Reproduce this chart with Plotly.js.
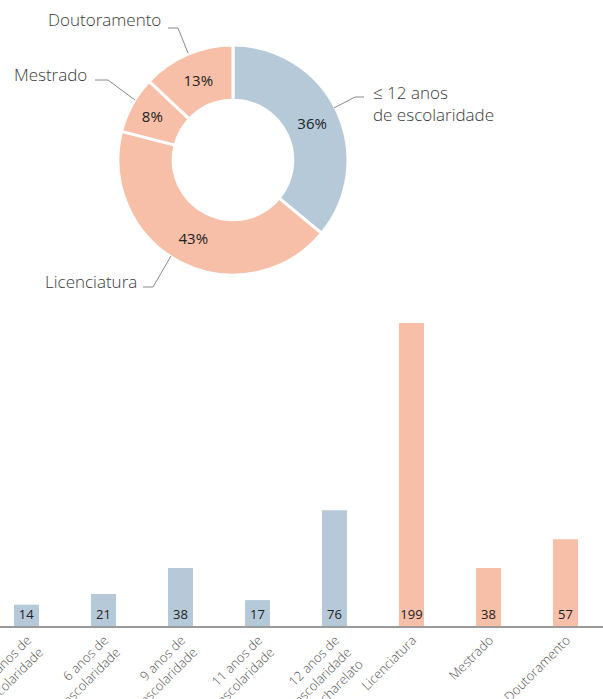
<!DOCTYPE html>
<html>
<head>
<meta charset="utf-8">
<script src="https://cdn.plot.ly/plotly-3.0.1.min.js"></script>
<style>html,body{margin:0;padding:0;background:#fff;}#chart{width:603px;height:699px;}</style>
</head>
<body>
<div id="chart"></div>
<script>
// Donut data
const pieLabels = ["≤ 12 anos de escolaridade", "Licenciatura", "Mestrado", "Doutoramento"];
const piePercents = [36, 43, 8, 13];
const pieColors = ["#b5c9d9", "#f7bfa8", "#f7bfa8", "#f7bfa8"];

// Bar data
const barCategories = [
  "4 anos de<br>escolaridade",
  "6 anos de<br>escolaridade",
  "9 anos de<br>escolaridade",
  "11 anos de<br>escolaridade",
  "12 anos de<br>escolaridade<br>Bacharelato",
  "Licenciatura",
  "Mestrado",
  "Doutoramento"
];
const barValues = [14, 21, 38, 17, 76, 199, 38, 57];
const barColors = ["#b5c9d9", "#b5c9d9", "#b5c9d9", "#b5c9d9", "#b5c9d9", "#f7bfa8", "#f7bfa8", "#f7bfa8"];

const FONT = "Open Sans, sans-serif";
const W = 603, H = 699;
const px = x => x / W;
const py = y => 1 - y / H;

const pie = {
  type: "pie",
  values: piePercents,
  labels: pieLabels,
  marker: {colors: pieColors, line: {color: "#ffffff", width: 3}},
  hole: 0.52,
  sort: false,
  direction: "clockwise",
  rotation: 0,
  textinfo: "text",
  text: piePercents.map(v => v + "%"),
  textposition: "inside",
  insidetextorientation: "horizontal",
  textfont: {family: FONT, size: 15, color: "#222222", weight: 500},
  domain: {x: [px(118), px(348)], y: [py(275), py(45)]},
  showlegend: false,
  hoverinfo: "none"
};

const bar = {
  type: "bar",
  x: barCategories,
  y: barValues,
  marker: {color: barColors},
  text: barValues.map(String),
  textposition: "inside",
  insidetextanchor: "start",
  textangle: 0,
  constraintext: "none",
  textfont: {family: FONT, size: 13, color: "#222222", weight: 500},
  cliponaxis: false,
  xaxis: "x",
  yaxis: "y",
  showlegend: false,
  hoverinfo: "none"
};

const lineStyle = {color: "#8a8a8a", width: 1};
const seg = (x0, y0, x1, y1) => ({type: "line", xref: "paper", yref: "paper",
  x0: px(x0), y0: py(y0), x1: px(x1), y1: py(y1), line: lineStyle});

const ann = (text, x, y, xanchor, align) => ({
  text: text, xref: "paper", yref: "paper", x: px(x), y: py(y),
  xanchor: xanchor, yanchor: "middle", showarrow: false, align: align || "left",
  font: {family: FONT, size: 17, color: "#3a3a3a", weight: 300}
});

const layout = {
  width: W, height: H,
  margin: {l: 0, r: 0, t: 0, b: 0},
  paper_bgcolor: "#ffffff",
  plot_bgcolor: "#ffffff",
  font: {family: FONT},
  bargap: 0.675,
  xaxis: {
    domain: [0, 1],
    range: [-0.344, 7.487],
    tickangle: -45,
    ticklabelshift: 1,
    ticklabelstandoff: 0,
    tickfont: {family: FONT, size: 13, color: "#555555", weight: 300},
    showline: true, linecolor: "#9a9a9a", linewidth: 1.5,
    ticks: "", showgrid: false, zeroline: false, automargin: false
  },
  yaxis: {
    domain: [py(626), py(314.5)],
    range: [0, 204.5],
    visible: false, showgrid: false, zeroline: false
  },
  shapes: [
    seg(168, 28, 178, 28), seg(178, 28, 188, 53),
    seg(95, 80, 108, 80), seg(108, 80, 135, 100),
    seg(143, 287, 153, 287), seg(153, 287, 171, 256),
    seg(334, 108, 355, 97), seg(355, 97, 364, 97)
  ],
  annotations: [
    ann("Doutoramento", 163, 20, "right"),
    ann("Mestrado", 89, 75, "right"),
    ann("Licenciatura", 139, 282, "right"),
    ann("≤ 12 anos<br>de escolaridade", 371, 104, "left")
  ]
};

Plotly.newPlot("chart", [pie, bar], layout, {displayModeBar: false, staticPlot: true});
</script>
</body>
</html>
